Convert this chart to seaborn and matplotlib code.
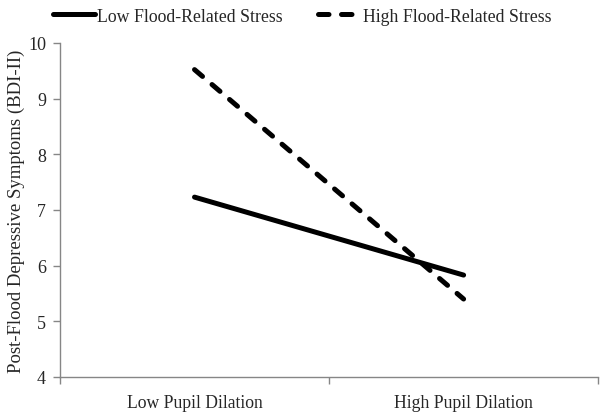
import pandas as pd
import matplotlib
matplotlib.use("Agg")
import matplotlib.pyplot as plt
import seaborn as sns
from matplotlib.lines import Line2D

# ---------------------------
# Data
# ---------------------------
dilation = ["Low Pupil Dilation", "High Pupil Dilation"]
low_stress = [7.23, 5.83]
high_stress = [9.52, 5.40]
groups = ["Low Flood-Related Stress", "High Flood-Related Stress"]
y_ticks = [4, 5, 6, 7, 8, 9, 10]

df = pd.DataFrame({
    "dilation": dilation * 2,
    "bdi": low_stress + high_stress,
    "stress": [groups[0]] * 2 + [groups[1]] * 2,
})

# ---------------------------
# Style
# ---------------------------
sns.set_style("white")
plt.rcParams["font.family"] = ["Liberation Serif", "DejaVu Serif"]
grey = "#868686"
dash = (2.1, 2.5)

fig = plt.figure(figsize=(6.04, 4.14), dpi=100)
ax = fig.add_axes([0.0993, 0.087, 0.891, 0.807])

sns.lineplot(
    data=df, x="dilation", y="bdi", hue="stress", style="stress",
    palette=["black", "black"], dashes=["", dash],
    linewidth=3.6, legend=False, ax=ax,
    solid_capstyle="round", dash_capstyle="round",
)

ax.set_xlim(-0.5, 1.5)
ax.set_ylim(4, 10)
ax.set_yticks(y_ticks)
ax.set_xticks([0, 1])
ax.set_xticklabels(dilation)
ax.set_xticks([-0.5, 0.5, 1.5], minor=True)
ax.tick_params(axis="x", which="major", length=0, labelsize=12.7, pad=12)
ax.tick_params(axis="x", which="minor", length=5, width=1, color=grey,
               direction="out", bottom=True)
ax.tick_params(axis="y", length=5, width=1, color=grey, direction="out",
               left=True, labelsize=13, pad=5)

ax.set_xlabel("")
ax.set_ylabel("Post-Flood Depressive Symptoms (BDI-II)", fontsize=13.5, labelpad=2)

for side in ["top", "right"]:
    ax.spines[side].set_visible(False)
for side in ["left", "bottom"]:
    ax.spines[side].set_color(grey)
    ax.spines[side].set_linewidth(1)

handles = [
    Line2D([], [], color="black", lw=3.6, solid_capstyle="round"),
    Line2D([], [], color="black", lw=3.6, ls=(0, dash), dash_capstyle="round"),
]
fig.legend(handles, groups, loc="upper center", bbox_to_anchor=(0.5, 1.018),
           ncol=2, frameon=False, fontsize=12.8, handlelength=2.4,
           handletextpad=0.1, columnspacing=2.0)

fig.savefig("out.png", dpi=100)
